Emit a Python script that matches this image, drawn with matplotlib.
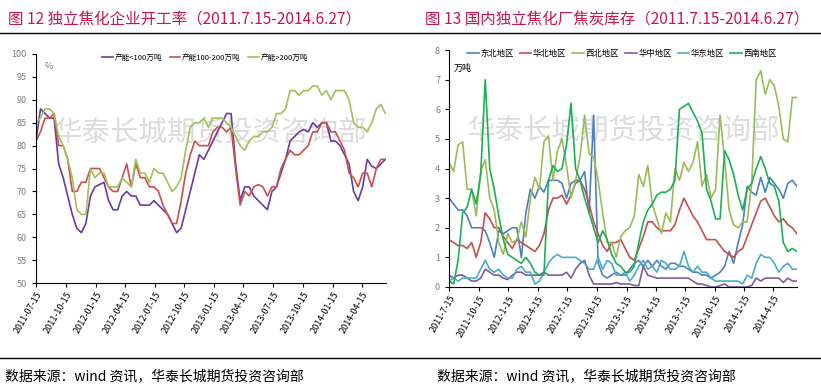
import matplotlib

matplotlib.use("Agg")
import matplotlib.pyplot as plt
import pandas as pd

plt.rcParams["font.family"] = ["Noto Sans CJK SC", "DejaVu Sans"]
plt.rcParams["axes.unicode_minus"] = False

# biweekly sampling 2011-07-15 .. 2014-06-27
dates = pd.date_range("2011-07-15", periods=78, freq="14D")

# 图12 开工率 (%)
rate_small = [81, 88, 87, 86, 86, 76, 73, 69, 65, 62, 61, 63, 69, 71, 71.5, 72, 68, 66, 66, 69,
              70, 69, 69, 67, 67, 67, 68, 67, 66, 65, 63, 61, 62, 66, 70, 74, 78, 77, 79, 81,
              83, 85, 87, 87, 76, 68, 71, 71, 69, 68, 67, 66, 70, 71, 74, 77, 81, 82, 83, 83.5,
              83, 85, 84, 85, 85, 81, 81, 80, 78, 76, 70, 68, 71, 77, 75.5, 75, 76, 77]
rate_mid = [81, 83, 86, 86, 87, 80, 80, 77, 70, 70, 72, 72, 75, 75, 75, 73, 71, 70, 70, 73,
            76, 71, 76, 73, 73, 71, 71, 70, 67, 65, 63, 63, 68, 74, 78, 81, 80, 80, 80, 83,
            84, 84, 83, 84, 75, 67, 70, 69, 71, 71.5, 71, 69, 71, 71, 75, 77, 79, 78, 78, 79,
            80, 83, 83, 85, 85, 83, 83, 81, 79, 74, 73, 71, 74, 74, 71, 75, 77, 77]
rate_big = [85, 86, 88, 88, 87, 82, 80, 77, 73, 66, 65, 65, 75, 73, 74, 74, 71, 71, 71, 73,
            72, 71, 77, 74, 74, 72, 75, 74, 74, 72, 70, 71, 73, 79, 84, 85, 85, 86, 84, 86,
            86, 86, 85, 84, 82, 80, 79, 81, 82, 82, 83, 83, 84, 87, 87, 88, 92, 92, 91, 92,
            92, 93, 93, 91, 92, 90, 92, 92, 92, 90, 85, 84, 84, 83, 85, 88, 89, 87]
rate_labels = ["产能<100万吨", "产能100-200万吨", "产能>200万吨"]

# 图13 焦炭库存 (万吨)
stock_ne = [3.0, 2.8, 2.6, 2.6, 2.4, 2.0, 2.0, 2.0, 1.9, 1.5, 1.0, 1.9, 1.8, 1.9, 2.0, 2.0, 1.0, 2.5, 3.3, 3.0,
            3.4, 3.2, 3.6, 3.6, 3.6, 3.5, 3.0, 3.5, 3.6, 3.6, 3.9, 2.5, 5.8, 0.8, 0.4, 0.3, 0.4, 0.5, 0.4, 0.4,
            0.6, 0.8, 0.9, 0.7, 0.9, 0.7, 0.9, 0.7, 0.6, 0.8, 0.8, 0.7, 0.7, 0.6, 0.5, 0.5, 0.4, 0.4, 0.3, 0.4,
            0.5, 0.7, 1.2, 0.8, 1.5, 2.1, 3.4, 3.2, 3.1, 3.7, 3.2, 3.7, 3.5, 3.3, 3.0, 3.5, 3.6, 3.4]
stock_n = [1.6, 1.5, 1.4, 1.4, 1.3, 1.5, 1.0, 1.5, 2.5, 2.3, 2.0, 2.0, 1.7, 1.5, 1.3, 1.6, 1.5, 1.4, 1.3, 1.2,
           1.4, 1.8, 2.6, 3.0, 3.0, 3.1, 2.8, 3.1, 3.5, 3.6, 3.3, 2.8, 2.2, 1.8, 1.4, 1.2, 1.5, 1.5, 1.6, 1.3,
           1.0, 0.9, 1.3, 1.7, 2.2, 2.2, 2.0, 1.9, 1.9, 1.9, 2.1, 2.6, 3.0, 2.7, 2.4, 2.2, 1.9, 1.6, 1.6, 1.6,
           1.4, 1.2, 1.1, 1.0, 1.2, 1.3, 1.7, 2.1, 2.5, 2.9, 3.0, 2.7, 2.4, 2.2, 2.3, 2.1, 2.0, 1.8]
stock_nw = [4.2, 3.9, 4.8, 4.9, 3.3, 3.3, 2.4, 3.9, 4.3, 3.0, 2.6, 1.5, 1.1, 1.8, 1.5, 1.6, 2.2, 1.7, 3.0, 3.7,
            3.3, 4.9, 5.1, 3.6, 4.6, 5.0, 4.1, 3.0, 3.6, 4.4, 5.8, 4.5, 4.4, 3.6, 2.5, 1.5, 1.5, 1.0, 1.7, 1.9,
            2.0, 2.4, 3.8, 3.4, 4.1, 2.8, 2.3, 1.8, 2.5, 2.2, 4.0, 3.6, 4.2, 3.9, 4.2, 4.9, 3.4, 3.8, 3.0, 3.3,
            5.8, 4.3, 2.6, 2.1, 2.0, 2.2, 2.2, 3.5, 7.0, 7.3, 6.5, 7.0, 6.8, 6.1, 5.0, 4.9, 6.4, 6.4]
stock_c = [0.4, 0.3, 0.4, 0.4, 0.3, 0.2, 0.2, 0.3, 0.6, 0.5, 0.4, 0.4, 0.3, 0.25, 0.4, 0.5, 0.5, 0.4, 0.4, 0.4,
           0.4, 0.5, 0.4, 0.4, 0.4, 0.4, 0.5, 0.3, 0.6, 0.8, 0.9, 0.4, 0.1, 0.1, 0.1, 0.1, 0.1, 0.15, 0.1, 0.1,
           0.1, 0.05, 0.05, 0.7, 0.4, 0.35, 0.3, 0.3, 0.3, 0.3, 0.3, 0.3, 0.3, 0.3, 0.2, 0.1, 0.1, 0.05, 0.0, 0.0,
           0.05, 0.1, 0.0, 0.0, 0.0, 0.0, 0.0, 0.05, 0.3, 0.2, 0.3, 0.3, 0.3, 0.3, 0.15, 0.3, 0.2, 0.2]
stock_e = [0.2, 0.3, 0.2, 0.3, 0.3, 0.3, 0.3, 0.6, 0.9, 0.6, 0.5, 0.6, 0.4, 0.3, 0.3, 0.6, 0.7, 0.5, 0.5, 0.1,
           0.2, 0.5, 0.8, 1.0, 1.1, 1.0, 1.0, 1.0, 1.0, 0.9, 0.8, 0.6, 0.6, 1.0, 0.6, 0.9, 0.8, 0.4, 0.4, 0.5,
           0.2, 0.4, 0.7, 0.9, 0.6, 0.7, 0.5, 0.9, 0.8, 0.6, 0.6, 0.7, 1.2, 0.7, 0.5, 0.7, 0.5, 0.5, 0.3, 0.2,
           0.2, 0.2, 0.2, 0.2, 0.2, 0.1, 0.4, 0.3, 0.8, 1.1, 1.0, 1.0, 0.8, 0.5, 0.7, 0.8, 0.6, 0.6]
stock_sw = [0.2, 0.1, 0.9, 2.5, 2.7, 3.3, 2.8, 3.8, 7.0, 4.0, 3.3, 2.4, 1.6, 1.1, 1.0, 0.9, 0.8, 1.0, 0.8, 0.5,
            0.4, 0.4, 3.6, 4.1, 3.9, 4.0, 4.8, 6.2, 4.0, 3.6, 3.0, 2.5, 2.0, 1.5, 1.9, 1.6, 1.1, 0.8, 0.7, 0.5,
            0.5, 0.7, 1.5, 2.2, 2.6, 2.8, 3.1, 3.2, 3.2, 3.3, 3.6, 6.0, 6.1, 6.2, 5.9, 5.6, 5.2, 3.3, 2.9, 2.3,
            2.3, 4.6, 4.3, 3.8, 3.1, 2.6, 3.3, 3.5, 4.0, 4.4, 4.0, 3.5, 3.4, 2.9, 1.5, 1.2, 1.3, 1.2]
region_labels = ["东北地区", "华北地区", "西北地区", "华中地区", "华东地区", "西南地区"]

# quarterly ticks on the 15th: 2011-07-15 ... 2014-04-15
tick_dates = pd.date_range("2011-07-01", "2014-04-01", freq="3MS") + pd.Timedelta(days=14)

fig = plt.figure(figsize=(8.21, 3.91), dpi=100)

title_color = "#C8174A"
fig.text(0.010, 0.949, "图 12 独立焦化企业开工率（2011.7.15-2014.6.27）", color=title_color,
         fontsize=11.2, va="center", ha="left")
fig.text(0.518, 0.949, "图 13 国内独立焦化厂焦炭库存（2011.7.15-2014.6.27）", color=title_color,
         fontsize=11.2, va="center", ha="left")
fig.add_artist(plt.Line2D([0, 1], [0.916, 0.916], color="black", lw=1))
fig.add_artist(plt.Line2D([0, 1], [0.085, 0.085], color="black", lw=1))
fig.text(0.006, 0.038, "数据来源：wind 资讯，华泰长城期货投资咨询部", fontsize=10, va="center")
fig.text(0.532, 0.038, "数据来源：wind 资讯，华泰长城期货投资咨询部", fontsize=10, va="center")


def style_axes(ax, date_fmt):
    for s in ["top", "right"]:
        ax.spines[s].set_visible(False)
    ax.spines["left"].set_color("black")
    ax.spines["bottom"].set_color("black")
    ax.set_xticks(tick_dates)
    ax.set_xticklabels([date_fmt(d) for d in tick_dates], rotation=60, ha="right",
                       rotation_mode="anchor", fontsize=6.5)
    ax.tick_params(axis="y", labelsize=6.5, labelcolor="#7f7f7f", length=3, width=0.8)
    ax.tick_params(axis="x", length=3, width=0.8, pad=2)
    ax.set_xlim(pd.Timestamp("2011-07-15"), pd.Timestamp("2014-06-28"))


# left chart
ax1 = fig.add_axes([0.0438, 0.276, 0.426, 0.586])
ax1.text(0.5, 0.655, "华泰长城期货投资咨询部", transform=ax1.transAxes, fontsize=20.5,
         color="#dcdcdc", ha="center", va="center", zorder=0)
for vals, c, lab in zip([rate_small, rate_mid, rate_big], ["#6A3BA0", "#C9504B", "#A3C05A"], rate_labels):
    ax1.plot(dates, vals, color=c, lw=1.2, label=lab)
ax1.set_ylim(50, 100)
ax1.set_yticks(range(50, 101, 5))
style_axes(ax1, lambda d: d.strftime("%Y-%m-%d"))
ax1.text(0.026, 0.965, "%", transform=ax1.transAxes, fontsize=6.5, color="#7f7f7f", va="top")
ax1.legend(loc="upper left", bbox_to_anchor=(0.17, 1.03), ncol=3, frameon=False, fontsize=5.5,
           handlelength=1.4, handletextpad=0.2, columnspacing=1.0)

# right chart
ax2 = fig.add_axes([0.547, 0.266, 0.424, 0.606])
ax2.text(0.5, 0.66, "华泰长城期货投资咨询部", transform=ax2.transAxes, fontsize=20.5,
         color="#dcdcdc", ha="center", va="center", zorder=0)
region_colors = ["#4F81BD", "#C0504D", "#9BBB59", "#7E5C9E", "#4BACC6", "#1DAF55"]
for vals, c, lab in zip([stock_ne, stock_n, stock_nw, stock_c, stock_e, stock_sw], region_colors, region_labels):
    ax2.plot(dates, vals, color=c, lw=1.2, label=lab)
ax2.set_ylim(0, 8)
ax2.set_yticks(range(0, 9))
style_axes(ax2, lambda d: f"{d.year}-{d.month}-{d.day}")
ax2.text(0.012, 0.94, "万吨", transform=ax2.transAxes, fontsize=6.5, color="black", va="top")
ax2.legend(loc="upper left", bbox_to_anchor=(0.03, 1.035), ncol=6, frameon=False, fontsize=6,
           handlelength=1.4, handletextpad=0.2, columnspacing=0.7)

fig.savefig("out.png", dpi=100)
